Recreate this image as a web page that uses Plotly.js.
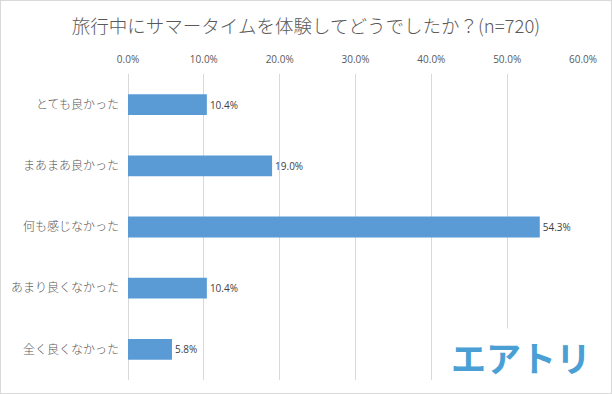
<!DOCTYPE html>
<html><head><meta charset="utf-8">
<script src="https://cdn.plot.ly/plotly-3.0.1.min.js"></script>
<style>
html,body{margin:0;padding:0;background:#fff;}
#chart{width:610px;height:392px;border:1px solid #d9d9d9;}
</style></head>
<body><div id="chart"></div>
<script>
const categories = ["とても良かった","まあまあ良かった","何も感じなかった","あまり良くなかった","全く良くなかった"];
const values = [0.104, 0.190, 0.543, 0.104, 0.058];
const labels = ["10.4%","19.0%","54.3%","10.4%","5.8%"];
const tickVals = [0,0.1,0.2,0.3,0.4,0.5,0.6];
const tickText = ["0.0%","10.0%","20.0%","30.0%","40.0%","50.0%","60.0%"];

const trace = {
  type:'bar', orientation:'h',
  x: values, y: categories,
  text: labels, textposition:'outside', cliponaxis:false,
  textfont:{family:'"Open Sans","Noto Sans CJK JP",sans-serif', size:10, color:'#404040'},
  marker:{color:'#5b9bd5'},
  width:0.34, hoverinfo:'none'
};
const layout = {
  width:610, height:392,
  margin:{l:127, r:28, t:73, b:13},
  paper_bgcolor:'#fff', plot_bgcolor:'#fff',
  showlegend:false,
  title:{text:'旅行中にサマータイムを体験してどうでしたか？(n=720)', x:0.5, xanchor:'center', y:0.935, yanchor:'middle',
    font:{family:'"Noto Sans CJK JP",sans-serif', size:18.5, weight:300, color:'#595959'}},
  xaxis:{side:'top', range:[0,0.6], tickvals:tickVals, ticktext:tickText, showgrid:true, gridcolor:'#d9d9d9', gridwidth:1,
    zeroline:true, zerolinecolor:'#d9d9d9', showline:false, ticks:'', ticklen:0, fixedrange:true, ticklabelstandoff:8,
    tickfont:{family:'"Open Sans","Noto Sans CJK JP",sans-serif', size:10, color:'#595959'}},
  yaxis:{autorange:'reversed', showgrid:false, zeroline:false, showline:false, ticks:'', ticklabelstandoff:8,
    tickfont:{family:'"Noto Sans CJK JP",sans-serif', size:12, weight:300, color:'#595959'}},
  annotations:[{xref:'paper', yref:'paper', x:1.025, y:-0.015, xanchor:'right', yanchor:'bottom',
    text:'<b>エアトリ</b>', showarrow:false, bgcolor:'#fff', borderpad:2,
    font:{family:'"Noto Sans CJK JP",sans-serif', size:35, color:'#4a9fd4'}}]
};
Plotly.newPlot('chart',[trace],layout,{displayModeBar:false, staticPlot:true});
</script></body></html>
